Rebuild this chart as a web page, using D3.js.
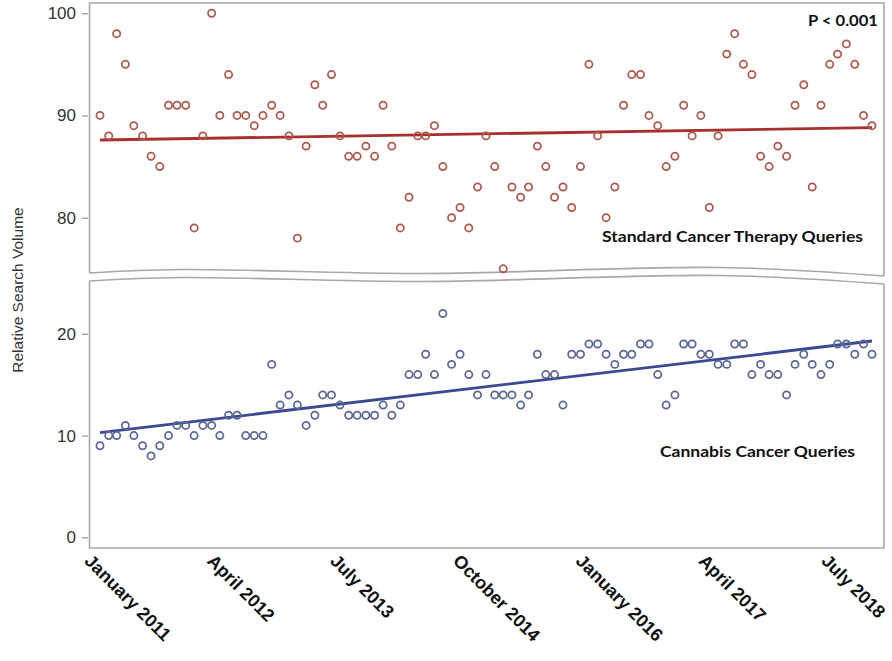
<!DOCTYPE html>
<html>
<head>
<meta charset="utf-8">
<script src="https://cdn.jsdelivr.net/npm/d3@7"></script>
<style>
  body { margin: 0; background: #fff; }
  svg { display: block; }
</style>
</head>
<body>
<div id="chart"></div>
<script>
// monthly relative search volume, Jan 2011 - Jul 2018
const standardQueries = [90,88,98,95,89,88,86,85,91,91, 91,79,88,100,90,94,90,90,89,90,
  91,90,88,78,87,93,91,94,88,86, 86,87,86,91,87,79,82,88,88,89, 85,80,81,79,83,88,85,75,83,82,
  83,87,85,82,83,81,85,95,88,80, 83,91,94,94,90,89,85,86,91,88, 90,81,88,96,98,95,94,86,85,87,
  86,91,93,83,91,95,96,97,95,90, 89];
const cannabisQueries = [9,10,10,11,10,9,8,9,10,11, 11,10,11,11,10,12,12,10,10,10,
  17,13,14,13,11,12,14,14,13,12, 12,12,12,13,12,13,16,16,18,16, 22,17,18,16,14,16,14,14,14,13,
  14,18,16,16,13,18,18,19,19,18, 17,18,18,19,19,16,13,14,19,19, 18,18,17,17,19,19,16,17,16,16,
  14,17,18,17,16,17,19,19,18,19, 18];
// fitted trend values at first and last month
const standardFit = [87.6, 88.8];
const cannabisFit = [10.3, 19.3];

const tickLabels = ["January 2011", "April 2012", "July 2013", "October 2014",
                    "January 2016", "April 2017", "July 2018"];
const standardTicks = [80, 90, 100];
const cannabisTicks = [0, 10, 20];

const WIDTH = 892, HEIGHT = 661;
const LEFT = 89.5, RIGHT = 884;

const months = d3.timeMonth.range(new Date(2011, 0, 1), new Date(2018, 7, 1));

const svg = d3.select("#chart").append("svg")
  .attr("width", WIDTH)
  .attr("height", HEIGHT);

const x = d3.scaleTime()
  .domain([months[0], months[months.length - 1]])
  .range([100, 872]);

const yTop = d3.scaleLinear().domain([75, 101]).range([268.8, 3]);
const yBot = d3.scaleLinear().domain([-1, 25]).range([547.5, 283]);

// panel frames with broken-axis waves
const wave = d3.line().curve(d3.curveCatmullRom);
const topWave = [[LEFT, 273], [180, 269.5], [420, 273.5], [720, 267.5], [RIGHT, 276]];
const botWave = topWave.map(p => [p[0], p[1] + 8]);

svg.append("path")
  .attr("d", `M${LEFT},273 L${LEFT},3 L${RIGHT},3 L${RIGHT},276`)
  .attr("fill", "none").attr("stroke", "#a8a8a8").attr("stroke-width", 1.6);
svg.append("path").attr("d", wave(topWave))
  .attr("fill", "none").attr("stroke", "#a8a8a8").attr("stroke-width", 1.6);
svg.append("path")
  .attr("d", `M${LEFT},281 L${LEFT},548 L${RIGHT},548 L${RIGHT},284`)
  .attr("fill", "none").attr("stroke", "#a8a8a8").attr("stroke-width", 1.6);
svg.append("path").attr("d", wave(botWave))
  .attr("fill", "none").attr("stroke", "#a8a8a8").attr("stroke-width", 1.6);

// y axes
function yAxis(scale, ticks) {
  const g = svg.append("g")
    .attr("transform", "translate(88,0)")
    .call(d3.axisLeft(scale).tickValues(ticks).tickSize(6).tickPadding(6));
  g.select(".domain").remove();
  g.selectAll(".tick line").attr("stroke", "#999").attr("stroke-width", 1.2);
  g.selectAll(".tick text")
    .attr("fill", "#333")
    .style("font-family", "'Liberation Sans', Arial, sans-serif")
    .style("font-size", "17px");
}
yAxis(yTop, standardTicks);
yAxis(yBot, cannabisTicks);

svg.append("text")
  .attr("transform", "translate(23,290) rotate(-90)")
  .attr("text-anchor", "middle")
  .attr("fill", "#333")
  .style("font-family", "'Liberation Sans', Arial, sans-serif")
  .style("font-size", "15.5px")
  .text("Relative Search Volume");

// x axis labels (evenly spaced under the panel)
const labelScale = d3.scalePoint().domain(tickLabels).range([83, 820]);
const xg = svg.append("g")
  .attr("transform", "translate(0,548)")
  .call(d3.axisBottom(labelScale).tickSize(0));
xg.select(".domain").remove();
xg.selectAll(".tick text")
  .attr("x", 0).attr("y", 0).attr("dy", 0)
  .attr("transform", "translate(0,14) rotate(45)")
  .attr("text-anchor", "start")
  .attr("fill", "#111")
  .style("font-family", "'Liberation Sans', Arial, sans-serif")
  .style("font-weight", "bold")
  .style("font-size", "18px");

// series
function series(values, fit, scale, ptColor, lineColor) {
  svg.append("line")
    .attr("x1", x(months[0])).attr("y1", scale(fit[0]))
    .attr("x2", x(months[months.length - 1])).attr("y2", scale(fit[1]))
    .attr("stroke", lineColor).attr("stroke-width", 2.8);
  svg.append("g").selectAll("circle")
    .data(values)
    .join("circle")
      .attr("cx", (d, i) => x(months[i]))
      .attr("cy", d => scale(d))
      .attr("r", 3.6)
      .attr("fill", "none")
      .attr("stroke", ptColor)
      .attr("stroke-width", 1.75);
}
series(standardQueries, standardFit, yTop, "#b2574d", "#a8302c");
series(cannabisQueries, cannabisFit, yBot, "#5b6796", "#3a4991");

// annotations
function note(txt, xp, yp, len, anchor) {
  svg.append("text")
    .attr("x", xp).attr("y", yp)
    .attr("text-anchor", anchor)
    .attr("textLength", len)
    .attr("lengthAdjust", "spacingAndGlyphs")
    .attr("fill", "#111")
    .style("font-family", "Lato, 'Open Sans', sans-serif")
    .style("font-weight", "bold")
    .style("font-size", "15px")
    .text(txt);
}
note("P < 0.001", 878, 26, 70, "end");
note("Standard Cancer Therapy Queries", 602, 242, 261, "start");
note("Cannabis Cancer Queries", 660, 457, 195, "start");
</script>
</body>
</html>
